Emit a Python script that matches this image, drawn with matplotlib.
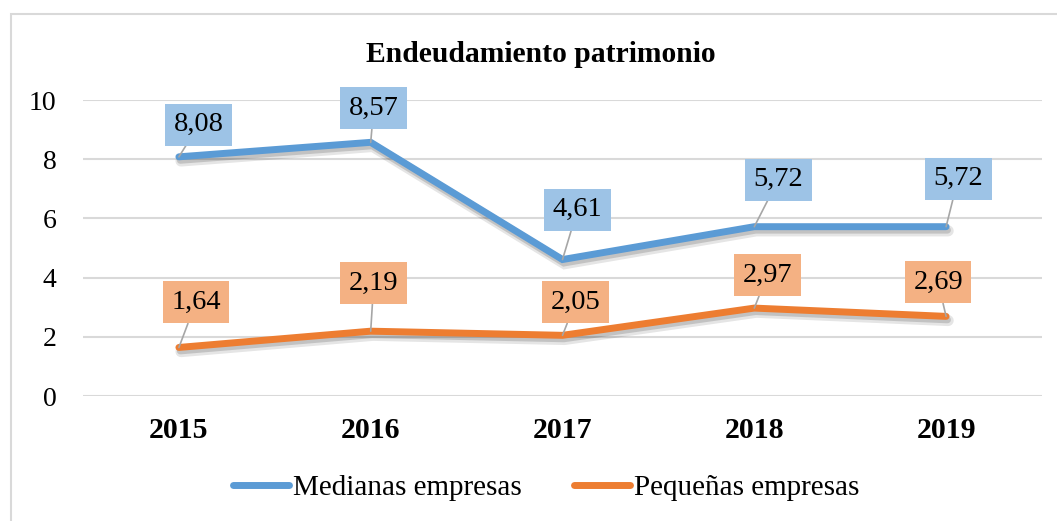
import matplotlib
matplotlib.use("Agg")
import matplotlib.pyplot as plt
import matplotlib.patheffects as pe
from matplotlib.patches import Rectangle

# ---- data ----
years = ["2015", "2016", "2017", "2018", "2019"]
medianas = [8.08, 8.57, 4.61, 5.72, 5.72]
pequenas = [1.64, 2.19, 2.05, 2.97, 2.69]
series_names = ["Medianas empresas", "Pequeñas empresas"]
title = "Endeudamiento patrimonio"
yticks = [0, 2, 4, 6, 8, 10]

# ---- styling / layout ----
blue_line = "#5B9BD5"
orange_line = "#ED7D31"
blue_box = "#9DC3E6"
orange_box = "#F4B183"
grid_color = "#D9D9D9"
# label offsets in pixels (dx right, dy up)
off_med = [(20, 32), (3, 34), (15, 50), (24, 47), (12, 48)]
off_peq = [(17, 45), (3, 48), (13, 33), (13, 33), (-8, 34)]

plt.rcParams['font.family'] = ['Liberation Serif', 'DejaVu Serif']

W, H = 1057, 521
fig = plt.figure(figsize=(W / 100, H / 100), dpi=100)
ax = fig.add_axes([83 / W, 1 - 396 / H, (1042 - 83) / W, (396 - 100) / H])

x = list(range(len(years)))
shadow = [pe.SimpleLineShadow(offset=(1.5, -3), shadow_color='black', alpha=0.10, rho=1, linewidth=8),
          pe.SimpleLineShadow(offset=(1.0, -2.5), shadow_color='black', alpha=0.15, rho=1, linewidth=5),
          pe.Normal()]
ax.plot(x, medianas, color=blue_line, lw=5, solid_capstyle='round',
        solid_joinstyle='miter', path_effects=shadow, zorder=3, label=series_names[0])
ax.plot(x, pequenas, color=orange_line, lw=5, solid_capstyle='round',
        solid_joinstyle='miter', path_effects=shadow, zorder=3, label=series_names[1])

def fmt(v):
    return f"{v:.2f}".replace(".", ",")

for vals, offs, bc in [(medianas, off_med, blue_box), (pequenas, off_peq, orange_box)]:
    for xi, v, (dx, dy) in zip(x, vals, offs):
        ax.annotate(fmt(v), xy=(xi, v), xytext=(dx * 0.72, dy * 0.72),
                    textcoords='offset points', ha='center', va='center',
                    fontsize=20.5, color='black', zorder=5,
                    bbox=dict(boxstyle='square,pad=0.3', fc=bc, ec='none'),
                    arrowprops=dict(arrowstyle='-', color='#A6A6A6', lw=1.2,
                                    shrinkA=0, shrinkB=0))

ax.set_xlim(-0.5, len(years) - 0.5)
ax.set_ylim(0, 10)
ax.set_yticks(yticks)
ax.set_yticklabels([str(t) for t in yticks], fontsize=20)
ax.set_xticks(x)
ax.set_xticklabels(years, fontsize=21.5, fontweight='bold')
ax.tick_params(axis='y', length=0, pad=19)
ax.tick_params(axis='x', length=0, pad=15)
ax.grid(axis='y', color=grid_color, lw=1.5)
ax.set_axisbelow(True)
for s in ax.spines.values():
    s.set_visible(False)

fig.text(0.512, 1 - 54 / H, title, ha='center', va='center', fontsize=21.3, fontweight='bold')

leg = fig.legend(loc='center', bbox_to_anchor=(546 / W, 1 - 488 / H), ncol=2, frameon=False,
                 fontsize=21, handlelength=1.92, handletextpad=0.14, columnspacing=1.78)
for ln in leg.get_lines():
    ln.set_path_effects([])
    ln.set_linewidth(5)

fig.patches.append(Rectangle((11 / W, -0.1), 1.2, (1 - 14 / H) + 0.1, transform=fig.transFigure,
                             fill=False, edgecolor='#D9D9D9', lw=1.5))

fig.savefig("out.png", dpi=100)
